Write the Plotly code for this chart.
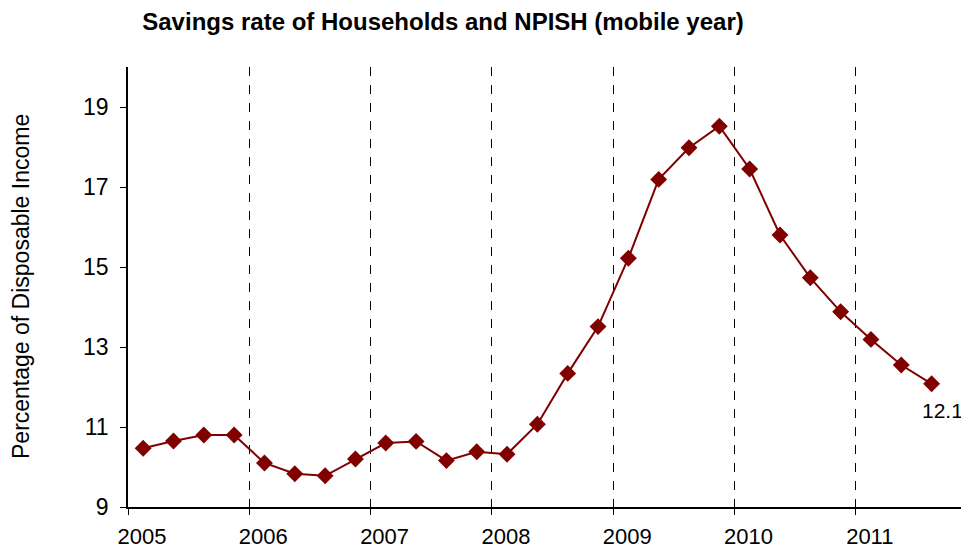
import plotly.graph_objects as go

years = [2005, 2006, 2007, 2008, 2009, 2010, 2011]
quarters_per_year = [4, 4, 4, 4, 4, 4, 3]
savings_rate = [10.47, 10.65, 10.8, 10.8,
                10.1, 9.83, 9.78, 10.2,
                10.6, 10.64, 10.16, 10.38,
                10.32, 11.07, 12.34, 13.51,
                15.22, 17.19, 17.98, 18.52,
                17.45, 15.8, 14.73, 13.88,
                13.19, 12.55, 12.08]
last_label = "12.1"
y_ticks = [9, 11, 13, 15, 17, 19]

x_vals = []
for yr, nq in zip(years, quarters_per_year):
    for q in range(nq):
        x_vals.append(yr + (q + 0.5) / 4)

color = "#800000"
font_family = "Liberation Sans, Arial, sans-serif"

# page body has an 8px margin; figure is sized so it ends at the window edge
OFF = 8
W, H = 969 - OFF, 550 - OFF

fig = go.Figure()
fig.add_trace(go.Scatter(
    x=x_vals, y=savings_rate, mode="lines+markers",
    line=dict(color=color, width=2),
    marker=dict(symbol="diamond", size=13, color=color),
    showlegend=False, hoverinfo="x+y"))

fig.add_annotation(x=x_vals[-1], y=savings_rate[-1], text=last_label,
                   showarrow=False, xanchor="center", yanchor="top",
                   xshift=11, yshift=-13,
                   font=dict(size=21, color="black", family=font_family))

fig.add_annotation(xref="paper", yref="paper", x=(21 - 128) / 841, y=0.5,
                   text="Percentage of Disposable Income", textangle=-90,
                   showarrow=False, xanchor="center", yanchor="middle",
                   font=dict(size=23, color="black", family=font_family))

fig.update_layout(
    width=W, height=H,
    margin=dict(l=128 - OFF, r=0, t=67 - OFF, b=43, autoexpand=False),
    paper_bgcolor="white", plot_bgcolor="white",
    title=dict(text="<b>Savings rate of Households and NPISH (mobile year)</b>",
               x=(443 - OFF) / W, xanchor="center", xref="container",
               y=1 - (22 - OFF) / H, yanchor="middle", yref="container",
               font=dict(size=24, color="black", family=font_family)),
    xaxis=dict(range=[2005, 2005 + 841 / 121.3], tickvals=years,
               ticktext=[str(y) for y in years], automargin=False,
               showline=True, linecolor="black", linewidth=1.5,
               ticks="outside", ticklen=6, tickcolor="black",
               ticklabelshift=14, ticklabelstandoff=3,
               showgrid=True, gridcolor="black", griddash="dash", gridwidth=1,
               zeroline=False,
               tickfont=dict(size=22, color="black", family=font_family)),
    yaxis=dict(range=[9, 20], tickvals=y_ticks, automargin=False,
               showline=True, linecolor="black", linewidth=1.5,
               ticks="outside", ticklen=6, tickcolor="black",
               ticklabelstandoff=7,
               showgrid=False, zeroline=False,
               tickfont=dict(size=23, color="black", family=font_family)),
)

fig.write_html("out.html")
